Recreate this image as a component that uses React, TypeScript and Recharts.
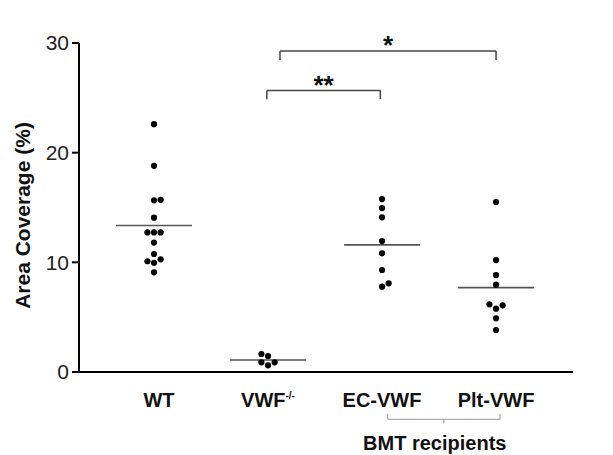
import { ScatterChart, Scatter, XAxis, YAxis, ReferenceLine, ReferenceDot } from 'recharts';

const groups = ['WT', 'VWF-/-', 'EC-VWF', 'Plt-VWF'];

// values (area coverage, %)
const wtValues = [22.6, 18.8, 15.65, 15.7, 14.07, 12.73, 12.73, 12.73, 11.8, 10.76, 10.27, 10.1, 9.96, 9.09];
const vwfValues = [1.64, 1.46, 0.88, 0.88, 0.61];
const ecValues = [15.77, 14.95, 14.1, 11.94, 10.82, 9.3, 8.09, 7.78];
const pltValues = [15.5, 10.21, 8.84, 7.96, 6.17, 6.08, 5.77, 4.9, 3.83];

// horizontal column of each dot inside its group (-1 left, 0 centre, 1 right)
const wtColumns = [0, 0, 0, 1, 0, -1, 0, 1, 0, 0, 1, -1, 0, 0];
const vwfColumns = [-1, 0, -1, 1, 0];
const ecColumns = [0, 0, 0, 0, 0, 0, 1, 0];
const pltColumns = [0, 0, 0, 0, -1, 1, 0, 0, 0];

const groupValues = [wtValues, vwfValues, ecValues, pltValues];
const groupColumns = [wtColumns, vwfColumns, ecColumns, pltColumns];

const brackets = [
  { from: 1.99, to: 2.985, y: 25.68, drop: 0.8, label: '**' },
  { from: 2.105, to: 4.0, y: 29.26, drop: 0.8, label: '*' },
];

const bmtFrom = 3.05;
const bmtTo = 4.035;
const bmtLabel = 'BMT recipients';

const COL_STEP = 0.058;
const MEAN_HALF = 0.333;

const points = groupValues.flatMap((vals, g) =>
  vals.map((v, i) => ({ x: g + 1 + groupColumns[g][i] * COL_STEP, y: v }))
);

const means = groupValues.map((vals) => vals.reduce((s, v) => s + v, 0) / vals.length);

const FONT = '"Liberation Sans", Arial, sans-serif';

const GroupTick = (props: any) => {
  const { x, y, payload } = props;
  const name = groups[payload.value - 1];
  const shift = name === 'WT' ? 5 : 0;
  if (name === 'VWF-/-') {
    return (
      <text x={x} y={y} dy={27} textAnchor="middle" fontFamily={FONT} fontSize={20} fontWeight="bold" fill="#111">
        <tspan>VWF</tspan>
        <tspan fontSize={10} dy={-8}>-/-</tspan>
      </text>
    );
  }
  return (
    <text x={x + shift} y={y} dy={27} textAnchor="middle" fontFamily={FONT} fontSize={20} fontWeight="bold" fill="#111">
      {name}
    </text>
  );
};

const YLabel = (props: any) => {
  const { viewBox } = props;
  const cx = viewBox.x + 14;
  const cy = viewBox.y + viewBox.height / 2 + 8;
  return (
    <text
      x={cx}
      y={cy}
      transform={`rotate(-90 ${cx} ${cy})`}
      textAnchor="middle"
      dominantBaseline="central"
      fontFamily={FONT}
      fontSize={21}
      fontWeight="bold"
      fill="#111"
    >
      Area Coverage (%)
    </text>
  );
};

const Dot = (props: any) => <circle cx={props.cx} cy={props.cy} r={3.1} fill="#000" />;

export default function App() {
  return (
    <ScatterChart width={605} height={447} margin={{ top: 35, right: 40, left: 0, bottom: 0 }}>
      <XAxis
        type="number"
        dataKey="x"
        domain={[0.342, 4.675]}
        ticks={[1, 2, 3, 4]}
        allowDataOverflow
        tickLine={false}
        tick={<GroupTick />}
        height={83}
        axisLine={{ stroke: '#000', strokeWidth: 2 }}
      />
      <YAxis
        type="number"
        dataKey="y"
        domain={[0, 30]}
        ticks={[0, 10, 20, 30]}
        allowDataOverflow
        width={71}
        tickSize={7}
        tickMargin={3}
        tick={{ fontFamily: FONT, fontSize: 21, fill: '#222' }}
        tickLine={{ stroke: '#000', strokeWidth: 2 }}
        axisLine={{ stroke: '#000', strokeWidth: 2 }}
        label={<YLabel />}
      />

      {means.map((m, g) => (
        <ReferenceLine
          key={`mean-${g}`}
          segment={[{ x: g + 1 - MEAN_HALF, y: m }, { x: g + 1 + MEAN_HALF, y: m }]}
          stroke="#555"
          strokeWidth={1.6}
          ifOverflow="visible"
        />
      ))}

      {brackets.map((b, i) => [
        <ReferenceLine key={`bh-${i}`} segment={[{ x: b.from, y: b.y }, { x: b.to, y: b.y }]} stroke="#444" strokeWidth={1.5} ifOverflow="visible" />,
        <ReferenceLine key={`bl-${i}`} segment={[{ x: b.from, y: b.y }, { x: b.from, y: b.y - b.drop }]} stroke="#444" strokeWidth={1.5} ifOverflow="visible" />,
        <ReferenceLine key={`br-${i}`} segment={[{ x: b.to, y: b.y }, { x: b.to, y: b.y - b.drop }]} stroke="#444" strokeWidth={1.5} ifOverflow="visible" />,
        <ReferenceDot
          key={`bt-${i}`}
          x={(b.from + b.to) / 2}
          y={b.y + 0.55}
          r={0}
          ifOverflow="visible"
          label={{ value: b.label, position: 'center', fontFamily: FONT, fontSize: 26, fontWeight: 'bold', fill: '#111' }}
        />,
      ])}

      <ReferenceLine segment={[{ x: bmtFrom, y: -4.31 }, { x: bmtTo, y: -4.31 }]} stroke="#999" strokeWidth={1} ifOverflow="visible" />
      <ReferenceLine segment={[{ x: bmtFrom, y: -4.31 }, { x: bmtFrom, y: -3.83 }]} stroke="#999" strokeWidth={1} ifOverflow="visible" />
      <ReferenceLine segment={[{ x: bmtTo, y: -4.31 }, { x: bmtTo, y: -3.83 }]} stroke="#999" strokeWidth={1} ifOverflow="visible" />
      <ReferenceLine
        segment={[{ x: (bmtFrom + bmtTo) / 2, y: -4.31 }, { x: (bmtFrom + bmtTo) / 2, y: -4.65 }]}
        stroke="#999"
        strokeWidth={1}
        ifOverflow="visible"
      />
      <ReferenceDot
        x={(bmtFrom + bmtTo) / 2 - 0.08}
        y={-6.47}
        r={0}
        ifOverflow="visible"
        label={{ value: bmtLabel, position: 'center', fontFamily: FONT, fontSize: 20, fontWeight: 'bold', fill: '#111' }}
      />

      <Scatter data={points} shape={<Dot />} isAnimationActive={false} />
    </ScatterChart>
  );
}
